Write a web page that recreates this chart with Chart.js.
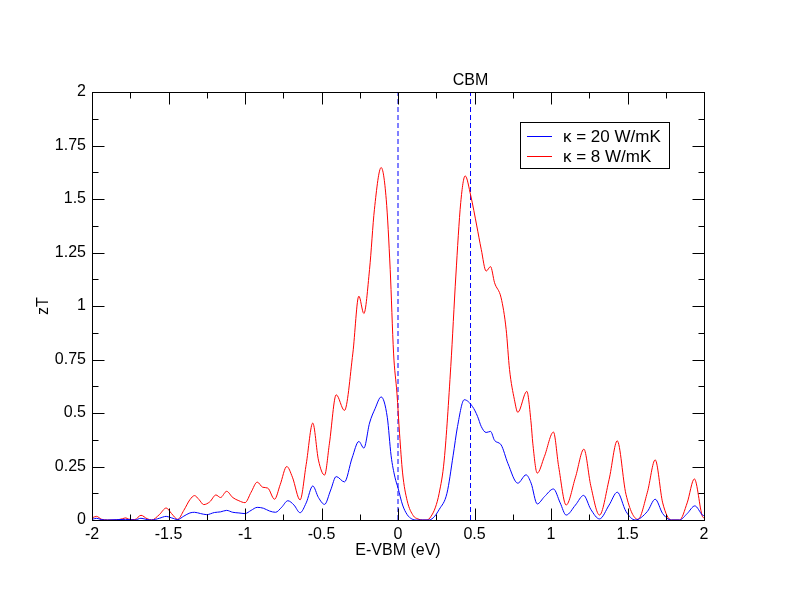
<!DOCTYPE html>
<html>
<head>
<meta charset="utf-8">
<script src="https://cdn.jsdelivr.net/npm/chart.js@4.4.1/dist/chart.umd.min.js"></script>
<style>
  html, body { margin: 0; padding: 0; background: #fff; }
  #wrap { width: 792px; height: 612px; }
</style>
</head>
<body>
<div id="wrap"><canvas id="c" width="792" height="612"></canvas></div>
<script>
// zT vs E-VBM
const redX = [-2.00, -1.97, -1.94, -1.90, -1.85, -1.80, -1.78, -1.76, -1.72, -1.68, -1.64, -1.61, -1.56, -1.515, -1.48, -1.44,
  -1.40, -1.36, -1.33, -1.30, -1.27, -1.23, -1.19, -1.16, -1.12, -1.08, -1.04, -1.00, -0.96, -0.92, -0.884, -0.851,
  -0.807, -0.77, -0.727, -0.69, -0.64, -0.60, -0.557, -0.52, -0.48, -0.448, -0.404, -0.35, -0.295, -0.256, -0.223,
  -0.186, -0.154, -0.11, -0.077, -0.051, -0.029, -0.007, 0.01, 0.03, 0.06, 0.10, 0.13, 0.16, 0.19, 0.214, 0.245,
  0.269, 0.302, 0.345, 0.378, 0.41, 0.439, 0.476, 0.515, 0.544, 0.576, 0.605, 0.631, 0.674, 0.707, 0.729, 0.761,
  0.783, 0.842, 0.87, 0.881, 0.91, 0.957, 1.016, 1.05, 1.099, 1.16, 1.215, 1.26, 1.317, 1.38, 1.433, 1.49, 1.568,
  1.63, 1.681, 1.73, 1.786, 1.84, 1.89, 1.937, 1.99, 2.00];
const redY = [0.010, 0.017, 0.004, 0.0, 0.0, 0.006, 0.010, 0.004, 0.002, 0.022, 0.006, 0.0, 0.025, 0.056, 0.030, 0.003,
  0.045, 0.095, 0.114, 0.095, 0.072, 0.085, 0.117, 0.105, 0.134, 0.105, 0.090, 0.081, 0.130, 0.177, 0.153, 0.149,
  0.097, 0.165, 0.250, 0.200, 0.094, 0.260, 0.453, 0.280, 0.210, 0.359, 0.585, 0.512, 0.780, 1.046, 0.965,
  1.171, 1.452, 1.647, 1.499, 1.171, 0.780, 0.593, 0.406, 0.220, 0.090, 0.020, 0.005, 0.0, 0.0, 0.015, 0.060,
  0.125, 0.280, 0.718, 1.140, 1.483, 1.608, 1.514, 1.374, 1.265, 1.163, 1.184, 1.109, 1.038, 0.890, 0.703, 0.562,
  0.503, 0.601, 0.453, 0.359, 0.219, 0.297, 0.411, 0.250, 0.070, 0.200, 0.331, 0.160, 0.023, 0.190, 0.370, 0.120, 0.003,
  0.130, 0.281, 0.080, 0.0, 0.0, 0.080, 0.192, 0.016, 0.010];

const blueX = [-2.00, -1.97, -1.94, -1.90, -1.78, -1.72, -1.68, -1.64, -1.61, -1.56, -1.515, -1.48, -1.44, -1.40, -1.36,
  -1.33, -1.29, -1.25, -1.20, -1.16, -1.12, -1.08, -1.04, -1.00, -0.96, -0.92, -0.88, -0.84, -0.80, -0.76, -0.72,
  -0.68, -0.64, -0.60, -0.557, -0.52, -0.48, -0.44, -0.404, -0.35, -0.30, -0.256, -0.223, -0.186, -0.15, -0.11,
  -0.07, -0.045, -0.02, 0.0, 0.03, 0.06, 0.09, 0.12, 0.20, 0.23, 0.27, 0.32, 0.36, 0.389, 0.433, 0.487, 0.52, 0.544,
  0.576, 0.605, 0.631, 0.674, 0.718, 0.783, 0.837, 0.87, 0.91, 0.957, 1.016, 1.06, 1.099, 1.16, 1.213, 1.26, 1.317,
  1.38, 1.433, 1.49, 1.55, 1.63, 1.681, 1.73, 1.786, 1.84, 1.89, 1.94, 1.99, 2.00];
const blueY = [0.003, 0.008, 0.002, 0.0, 0.003, 0.0, 0.008, 0.002, 0.0, 0.008, 0.017, 0.010, 0.002, 0.018, 0.033,
  0.036, 0.030, 0.025, 0.035, 0.038, 0.045, 0.036, 0.033, 0.030, 0.045, 0.059, 0.055, 0.042, 0.036, 0.060, 0.090,
  0.070, 0.034, 0.080, 0.159, 0.105, 0.073, 0.140, 0.203, 0.178, 0.290, 0.367, 0.336, 0.453, 0.520, 0.575,
  0.480, 0.300, 0.200, 0.150, 0.070, 0.025, 0.005, 0.0, 0.0, 0.010, 0.050, 0.125, 0.300, 0.437, 0.562, 0.530, 0.484, 0.437,
  0.409, 0.414, 0.372, 0.351, 0.265, 0.172, 0.211, 0.172, 0.075, 0.109, 0.145, 0.080, 0.023, 0.070, 0.115, 0.050, 0.005,
  0.070, 0.130, 0.040, 0.0, 0.040, 0.097, 0.030, 0.0, 0.0, 0.030, 0.066, 0.023, 0.020];

const seriesLabels = ["\u03ba = 20 W/mK", "\u03ba = 8 W/mK"];
const vbm = 0;
const cbm = 0.474;
const xTicks = [-2, -1.5, -1, -0.5, 0, 0.5, 1, 1.5, 2];
const yTicks = [0, 0.25, 0.5, 0.75, 1, 1.25, 1.5, 1.75, 2];

const FAMILY = "'Liberation Sans', Arial, sans-serif";
const FONT = "16px " + FAMILY;

function pts(xs, ys) { return xs.map((x, i) => ({ x: x, y: ys[i] })); }

// frame, inward ticks on all sides, axis titles, CBM label, legend
const frame = {
  id: "frame",
  afterDraw(chart) {
    const ctx = chart.ctx, a = chart.chartArea;
    const xs = chart.scales.x, ys = chart.scales.y;
    const L = a.left + 0.5, R = a.right + 0.5, T = a.top + 0.5, B = a.bottom + 0.5;
    ctx.save();
    ctx.strokeStyle = "#000";
    ctx.lineWidth = 1;
    ctx.strokeRect(L, T, R - L, B - T);
    ctx.beginPath();
    for (let v = -2; v <= 2.0001; v += 0.25) {
      const p = Math.round(xs.getPixelForValue(v)) + 0.5;
      const len = Math.abs(v * 2 - Math.round(v * 2)) < 1e-6 ? 12 : 6;
      ctx.moveTo(p, B); ctx.lineTo(p, B - len);
      ctx.moveTo(p, T); ctx.lineTo(p, T + len);
    }
    for (let v = 0; v <= 2.0001; v += 0.125) {
      const p = Math.round(ys.getPixelForValue(v)) + 0.5;
      const len = Math.abs(v * 4 - Math.round(v * 4)) < 1e-6 ? 12 : 6;
      ctx.moveTo(L, p); ctx.lineTo(L + len, p);
      ctx.moveTo(R, p); ctx.lineTo(R - len, p);
    }
    ctx.stroke();

    ctx.fillStyle = "#000";
    ctx.font = FONT;
    ctx.textAlign = "center";
    ctx.textBaseline = "middle";
    ctx.fillText("E-VBM (eV)", (a.left + a.right) / 2, 551);
    ctx.fillText("CBM", xs.getPixelForValue(cbm), 81);
    ctx.save();
    ctx.translate(44, (a.top + a.bottom) / 2);
    ctx.rotate(-Math.PI / 2);
    ctx.fillText("zT", 0, 0);
    ctx.restore();

    // legend box
    ctx.strokeRect(520.5, 122.5, 149, 46);
    ctx.font = "17px " + FAMILY;
    const ds = chart.data.datasets;
    [0, 1].forEach((i) => {
      const y = 136.5 + i * 20;
      ctx.strokeStyle = ds[i].borderColor;
      ctx.beginPath(); ctx.moveTo(527, y); ctx.lineTo(552, y); ctx.stroke();
      ctx.textAlign = "left";
      ctx.fillText(ds[i].label, 563, y + 1);
    });
    ctx.restore();
  },
};

new Chart(document.getElementById("c"), {
  type: "line",
  data: {
    datasets: [
      { label: seriesLabels[0], data: pts(blueX, blueY), borderColor: "#0000ff", borderWidth: 1,
        pointRadius: 0, cubicInterpolationMode: "monotone" },
      { label: seriesLabels[1], data: pts(redX, redY), borderColor: "#ff0000", borderWidth: 1,
        pointRadius: 0, cubicInterpolationMode: "monotone" },
      { label: "vbm", data: [{ x: vbm, y: 0 }, { x: vbm, y: 2 }], borderColor: "#0000ff", borderWidth: 1,
        borderDash: [5, 3], pointRadius: 0 },
      { label: "cbm", data: [{ x: cbm, y: 0 }, { x: cbm, y: 2 }], borderColor: "#0000ff", borderWidth: 1,
        borderDash: [5, 3], pointRadius: 0 },
    ],
  },
  options: {
    responsive: false,
    animation: false,
    layout: { padding: { left: 0, top: 92, right: 88, bottom: 0 } },
    plugins: { legend: { display: false }, tooltip: { enabled: false } },
    scales: {
      x: {
        type: "linear", min: -2, max: 2,
        afterBuildTicks: (s) => { s.ticks = xTicks.map((v) => ({ value: v })); },
        afterFit: (s) => { s.height = 92; },
        grid: { display: false, drawTicks: false, tickLength: 0 }, border: { display: false },
        ticks: { color: "#000", font: { family: FAMILY, size: 16 }, padding: 5,
          maxRotation: 0, autoSkip: false, callback: (v) => String(v) },
      },
      y: {
        type: "linear", min: 0, max: 2,
        afterBuildTicks: (s) => { s.ticks = yTicks.map((v) => ({ value: v })); },
        afterFit: (s) => { s.width = 92; },
        grid: { display: false, drawTicks: false, tickLength: 0 }, border: { display: false },
        ticks: { color: "#000", font: { family: FAMILY, size: 16 }, padding: 6,
          autoSkip: false, callback: (v) => String(v) },
      },
    },
  },
  plugins: [frame],
});
</script>
</body>
</html>
